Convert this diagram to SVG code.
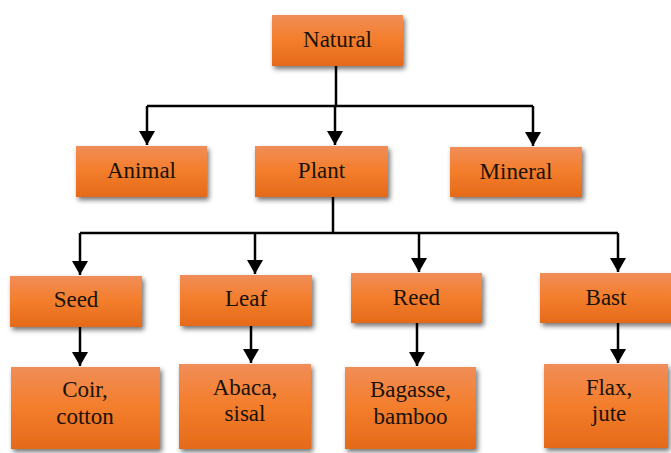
<svg xmlns="http://www.w3.org/2000/svg" width="671" height="453" viewBox="0 0 671 453">
<defs>
<linearGradient id="g" x1="0" y1="0" x2="0" y2="1">
<stop offset="0" stop-color="#F08D58"/>
<stop offset="0.45" stop-color="#F47F2E"/>
<stop offset="1" stop-color="#E56A19"/>
</linearGradient>
<filter id="sh" x="-20%" y="-20%" width="150%" height="160%">
<feDropShadow dx="2" dy="3" stdDeviation="2.5" flood-color="#000" flood-opacity="0.55"/>
</filter>
<marker id="ah" markerWidth="16" markerHeight="16" refX="14" refY="8" orient="auto" markerUnits="userSpaceOnUse">
<path d="M0,0 L14,8 L0,16 Z" fill="#000"/>
</marker>
<style>
.box{fill:url(#g);filter:url(#sh)}
.t{font-family:'Liberation Serif','DejaVu Serif',serif;font-size:23px;fill:#1a1208;text-anchor:middle}
.c{fill:none;stroke:#000;stroke-width:2.5}
</style>
</defs>
<g id="connectors">
<path class="c" d="M336,66 V106"/>
<path class="c" d="M147,106 H533"/>
<path class="c" d="M147,106 V145" marker-end="url(#ah)"/>
<path class="c" d="M335,106 V145" marker-end="url(#ah)"/>
<path class="c" d="M533,106 V146" marker-end="url(#ah)"/>
<path class="c" d="M333,197 V233"/>
<path class="c" d="M80,233 H618"/>
<path class="c" d="M80,233 V275" marker-end="url(#ah)"/>
<path class="c" d="M255,233 V274" marker-end="url(#ah)"/>
<path class="c" d="M419,233 V272" marker-end="url(#ah)"/>
<path class="c" d="M618,233 V272" marker-end="url(#ah)"/>
<path class="c" d="M80,327 V366" marker-end="url(#ah)"/>
<path class="c" d="M251,326 V363" marker-end="url(#ah)"/>
<path class="c" d="M417,323 V366" marker-end="url(#ah)"/>
<path class="c" d="M618,323 V363" marker-end="url(#ah)"/>
</g>
<g id="natural"><rect class="box" x="272" y="15" width="131" height="51"/><text class="t" x="337.5" y="47">Natural</text></g>
<g id="animal"><rect class="box" x="76" y="146" width="131" height="51"/><text class="t" x="141.5" y="178">Animal</text></g>
<g id="plant"><rect class="box" x="255" y="146" width="133" height="51"/><text class="t" x="321.5" y="178">Plant</text></g>
<g id="mineral"><rect class="box" x="450" y="147" width="132" height="50"/><text class="t" x="516" y="179">Mineral</text></g>
<g id="seed"><rect class="box" x="10" y="276" width="132" height="51"/><text class="t" x="76" y="307">Seed</text></g>
<g id="leaf"><rect class="box" x="180" y="275" width="132" height="51"/><text class="t" x="246" y="306">Leaf</text></g>
<g id="reed"><rect class="box" x="351" y="273" width="131" height="50"/><text class="t" x="416.5" y="305">Reed</text></g>
<g id="bast"><rect class="box" x="540" y="273" width="134" height="50"/><text class="t" x="606" y="305">Bast</text></g>
<g id="coir"><rect class="box" x="11" y="367" width="149" height="82"/><text class="t" x="85" y="397">Coir,</text><text class="t" x="85" y="424">cotton</text></g>
<g id="abaca"><rect class="box" x="179" y="364" width="132" height="85"/><text class="t" x="245" y="395">Abaca,</text><text class="t" x="245" y="421">sisal</text></g>
<g id="bagasse"><rect class="box" x="345" y="367" width="131" height="82"/><text class="t" x="410.5" y="397">Bagasse,</text><text class="t" x="410.5" y="424">bamboo</text></g>
<g id="flax"><rect class="box" x="544" y="364" width="124" height="84"/><text class="t" x="609" y="395">Flax,</text><text class="t" x="609" y="421">jute</text></g>
</svg>
